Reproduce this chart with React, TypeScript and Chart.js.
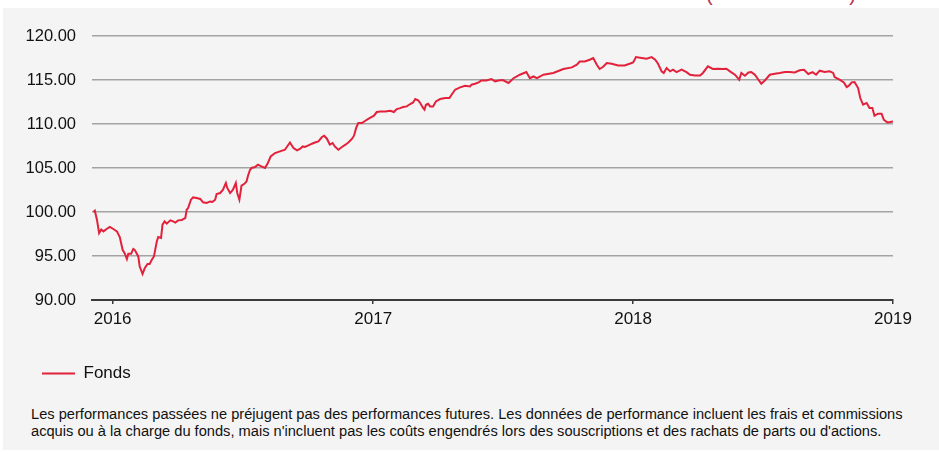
import React, { useEffect, useRef } from "react";
import { Chart, registerables } from "chart.js";

Chart.register(...registerables);

// Days since 2016-01-01 for each point of the fund series
const dayOffsets = [
  -27, -25, -22, -19, -16, -13, -8, -4, 1, 6, 10, 14, 17, 20, 22, 26, 29, 31, 36, 38,
  42, 45, 49, 52, 55, 58, 62, 64, 68, 70, 73, 76, 81, 85, 88, 92, 97, 102, 104, 106,
  110, 113, 118, 123, 127, 132, 137, 140, 144, 146, 151, 155, 159, 161, 165, 167, 169, 173, 175, 178,
  181, 185, 188, 190, 193, 195, 200, 204, 209, 214, 218, 222, 228, 235, 242, 249, 254, 259, 263, 267,
  270, 275, 280, 284, 289, 294, 297, 301, 305, 309, 312, 317, 322, 327, 331, 336, 339, 342, 345, 350,
  355, 359, 364, 367, 371, 376, 383, 390, 395, 399, 404, 408, 413, 418, 422, 425, 429, 432, 436, 438,
  440, 443, 446, 450, 454, 460, 467, 473, 476, 481, 488, 495, 502, 504, 509, 514, 518, 525, 532, 537,
  542, 548, 556, 563, 572, 581, 586, 591, 596, 605, 619, 633, 645, 652, 656, 663, 670, 675, 680, 684,
  689, 694, 701, 710, 719, 726, 731, 735, 743, 750, 757, 762, 766, 771, 774, 778, 783, 787, 792, 799,
  806, 811, 818, 825, 829, 836, 843, 850, 857, 862, 867, 874, 880, 883, 888, 893, 897, 902, 907, 911,
  916, 923, 930, 937, 944, 951, 958, 965, 971, 977, 983, 988, 993, 1000, 1007, 1012, 1014, 1021, 1027, 1031,
  1034, 1038, 1042, 1047, 1050, 1054, 1059, 1063, 1067, 1070, 1075, 1080, 1083, 1088, 1092, 1096,
];

const fundValues = [
  100.0, 100.15, 99.1, 97.6, 98.0, 97.8, 98.1, 98.3, 98.07, 97.8, 97.16, 95.7, 95.3, 94.66, 95.26, 95.26, 95.8, 95.7, 94.95, 93.8,
  92.95, 93.6, 94.1, 94.1, 94.58, 94.95, 96.66, 97.16, 97.05, 98.56, 98.93, 98.67, 99.05, 98.93, 98.8, 99.05, 99.1, 99.3, 100.26, 100.45,
  101.4, 101.66, 101.6, 101.48, 101.1, 101.02, 101.2, 101.14, 101.4, 102.05, 102.16, 102.53, 103.3, 102.73, 102.16, 102.34, 102.53, 103.3, 102.16, 101.4,
  103.0, 103.2, 103.47, 104.1, 104.8, 105.0, 105.11, 105.38, 105.18, 105.0, 105.57, 106.32, 106.7, 106.89, 107.08, 107.9, 107.27, 107.0, 107.16, 107.45,
  107.39, 107.57, 107.76, 107.9, 108.02, 108.52, 108.67, 108.33, 107.65, 107.84, 107.45, 107.08, 107.39, 107.65, 107.9, 108.3, 108.67, 109.55, 110.1, 110.1,
  110.37, 110.57, 110.8, 110.94, 111.36, 111.43, 111.43, 111.5, 111.36, 111.7, 111.8, 111.93, 112.0, 112.27, 112.45, 112.84, 112.68, 112.39, 111.82, 111.63,
  112.2, 112.3, 112.0, 112.0, 112.57, 112.84, 112.95, 112.95, 113.33, 113.9, 114.16, 114.35, 114.27, 114.47, 114.58, 114.73, 114.95, 114.95, 115.11, 114.84,
  114.95, 115.0, 114.66, 115.2, 115.6, 115.9, 115.2, 115.4, 115.2, 115.6, 115.8, 116.25, 116.43, 116.74, 117.1, 117.1, 117.3, 117.5, 116.74, 116.25,
  116.5, 116.93, 116.85, 116.66, 116.66, 116.85, 117.0, 117.6, 117.5, 117.42, 117.6, 117.3, 116.85, 115.98, 115.8, 116.36, 115.98, 116.17, 115.9, 116.17,
  115.9, 115.6, 115.5, 115.5, 115.8, 116.55, 116.25, 116.28, 116.25, 116.28, 115.98, 115.6, 115.03, 115.8, 115.49, 115.86, 115.9, 115.6, 115.03, 114.58,
  114.95, 115.6, 115.72, 115.8, 115.9, 115.9, 115.86, 116.1, 116.17, 115.68, 115.9, 115.6, 116.06, 115.9, 115.98, 115.8, 115.34, 115.03, 114.73, 114.2,
  114.35, 114.73, 114.77, 114.09, 112.95, 112.2, 112.39, 111.82, 111.82, 110.94, 111.17, 111.17, 110.49, 110.18, 110.23, 110.3,
];

const yearTicks = [0, 366, 731, 1096];
const yearLabels = ["2016", "2017", "2018", "2019"];
const seriesLabel = "Fonds";
const yTicks = [90, 95, 100, 105, 110, 115, 120];

const RED = "#e2213b";
const FONT = "'Liberation Sans', Arial, sans-serif";

const legendShift = {
  id: "legendShift",
  afterLayout(chart: any) {
    if (chart.legend) {
      chart.legend.left += 29;
    }
  },
};

export default function App() {
  const canvasRef = useRef<HTMLCanvasElement | null>(null);

  useEffect(() => {
    if (!canvasRef.current) return;
    const chart = new Chart(canvasRef.current, {
      type: "line",
      data: {
        datasets: [
          {
            label: seriesLabel,
            data: dayOffsets.map((d, i) => ({ x: d, y: fundValues[i] })),
            borderColor: RED,
            backgroundColor: RED,
            borderWidth: 2,
            pointRadius: 0,
            tension: 0,
          },
        ],
      },
      options: {
        responsive: false,
        animation: false,
        layout: { padding: { left: 0, right: 46, top: 28, bottom: 0 } },
        scales: {
          x: {
            type: "linear",
            min: -29,
            max: 1096,
            afterBuildTicks: (scale: any) => {
              scale.ticks = yearTicks.map((v) => ({ value: v }));
            },
            afterFit: (scale: any) => {
              scale.height = 55;
            },
            ticks: {
              autoSkip: false,
              maxRotation: 0,
              padding: 5,
              color: "#111",
              font: { family: FONT, size: 17 },
              callback: (v: any) => {
                const i = yearTicks.indexOf(Number(v));
                return i >= 0 ? yearLabels[i] : "";
              },
            },
            grid: {
              display: true,
              drawOnChartArea: false,
              drawTicks: true,
              tickLength: 4,
              color: "#3a3a3a",
              lineWidth: 1.5,
            },
            border: { display: true, color: "#3a3a3a", width: 2 },
          },
          y: {
            min: 90,
            max: 120,
            afterBuildTicks: (scale: any) => {
              scale.ticks = yTicks.map((v) => ({ value: v }));
            },
            afterFit: (scale: any) => {
              scale.width = 89;
            },
            ticks: {
              padding: 16,
              color: "#111",
              font: { family: FONT, size: 16.5 },
              callback: (v: any) => Number(v).toFixed(2),
            },
            grid: {
              color: "#a3a3a3",
              lineWidth: 1.5,
              drawTicks: false,
            },
            border: { display: false },
          },
        },
        plugins: {
          title: { display: false },
          tooltip: { enabled: false },
          legend: {
            display: true,
            position: "bottom",
            align: "start",
            labels: {
              boxWidth: 33,
              boxHeight: 2,
              padding: 10,
              color: "#111",
              font: { family: FONT, size: 17 },
              generateLabels: (c: any) =>
                Chart.defaults.plugins.legend.labels
                  .generateLabels(c)
                  .map((l: any) => ({ ...l, lineWidth: 0, fillStyle: RED })),
            },
          },
        },
      },
      plugins: [legendShift],
    });
    return () => chart.destroy();
  }, []);

  return (
    <div>
      <div
        style={{
          position: "absolute",
          left: 706,
          top: -17,
          width: 150,
          height: 22,
          fontFamily: FONT,
          fontSize: 20,
          color: "#b8304c",
          lineHeight: "22px",
          display: "flex",
          justifyContent: "space-between",
        }}
      >
        <span>(</span>
        <span>)</span>
      </div>
      <div
        style={{
          position: "absolute",
          left: 3,
          top: 8,
          width: 936,
          height: 442,
          background: "#f4f4f4",
        }}
      >
        <canvas
          ref={canvasRef}
          width={936}
          height={384}
          style={{ position: "absolute", left: 0, top: 0, width: 936, height: 384 }}
        />
        <div
          style={{
            position: "absolute",
            left: 28,
            top: 398,
            fontFamily: FONT,
            fontSize: 14.65,
            lineHeight: "16.7px",
            color: "#111",
            whiteSpace: "nowrap",
          }}
        >
          Les performances passées ne préjugent pas des performances futures. Les données de performance incluent les frais et commissions
          <br />
          acquis ou à la charge du fonds, mais n'incluent pas les coûts engendrés lors des souscriptions et des rachats de parts ou d'actions.
        </div>
      </div>
    </div>
  );
}
